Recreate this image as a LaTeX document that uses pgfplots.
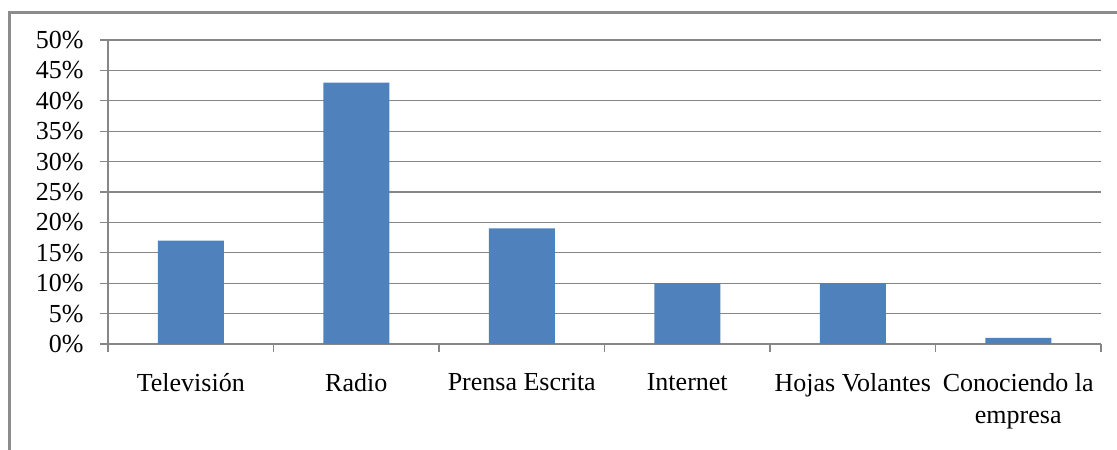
\documentclass[border=0pt]{standalone}
\usepackage{fontspec}
\setmainfont{Liberation Serif}
\usepackage{pgfplots}
\pgfplotsset{compat=1.18}
\definecolor{barblue}{HTML}{4F81BD}
\definecolor{gridgray}{HTML}{868686}
\definecolor{framegray}{HTML}{8C8C8C}
\begin{document}
\begin{tikzpicture}[x=1bp,y=1bp]
\useasboundingbox (0,0) rectangle (1117,450);
% outer chart frame
\draw[framegray, line width=3bp] (9.5,0) -- (9.5,437.5) -- (1117,437.5);
\begin{axis}[
  at={(108bp,106bp)}, anchor=south west,
  scale only axis, width=993bp, height=304bp,
  xmin=-0.5, xmax=5.5, ymin=0, ymax=50,
  axis x line=bottom, axis y line=left,
  axis line style={-, draw=gridgray, line width=1.3bp},
  tick align=outside,
  major tick length=8bp,
  tick style={gridgray, line width=1.2bp},
  ytick={0,5,...,50},
  ymajorgrids,
  grid style={gridgray, line width=1.1bp},
  /pgf/number format/assume math mode=true,
  yticklabel={\pgfmathprintnumber{\tick}\%},
  yticklabel style={font=\fontsize{26bp}{30bp}\selectfont, xshift=-13bp},
  xtick={-0.5,0.5,...,5.5},
  xticklabels={},
  extra x ticks={0,1,2,3,4,5},
  extra x tick labels={Televisión, Radio, Prensa Escrita, Internet, Hojas Volantes, {Conociendo la\\empresa}},
  extra x tick style={major tick length=0pt, grid=none,
    xticklabel style={font=\fontsize{26bp}{32bp}\selectfont, align=center, anchor=north, yshift=-26bp}},
  ybar, bar width=66bp,
  clip=false,
]
\addplot[fill=barblue, draw=none] coordinates {(0,17) (1,43) (2,19) (3,10) (4,10) (5,1)};
\end{axis}
\end{tikzpicture}
\end{document}
